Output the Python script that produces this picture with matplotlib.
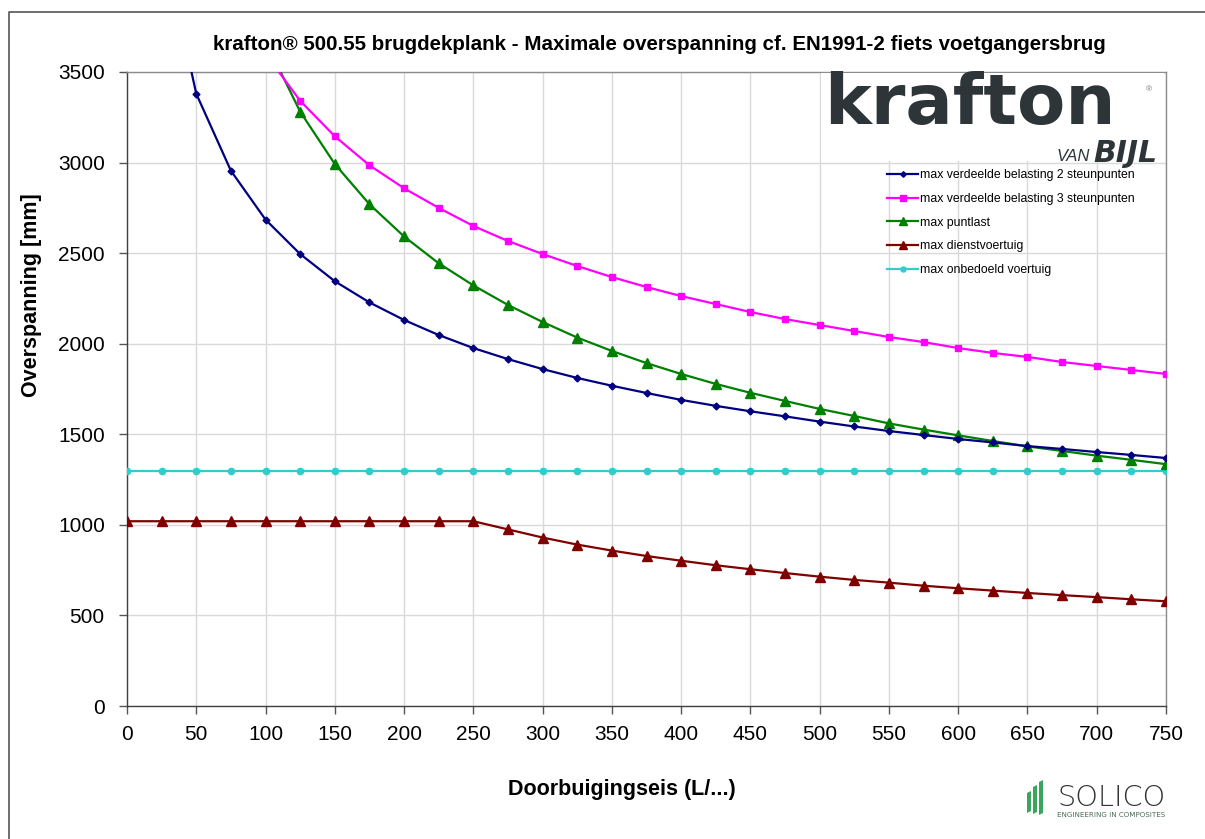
import numpy as np
import matplotlib
matplotlib.use("Agg")
import matplotlib.pyplot as plt
from matplotlib.patches import Rectangle, Polygon
from matplotlib.lines import Line2D

plt.rcParams['font.family'] = ['Liberation Sans', 'DejaVu Sans']

# ---------------- data ----------------
x_vals = list(range(0, 751, 25))
nan = np.nan
verdeeld_2 = [nan, 4250, 3380, 2955, 2685, 2495, 2345, 2228, 2131, 2048, 1976, 1915, 1860,
              1811, 1768, 1728, 1690, 1657, 1627, 1599, 1570, 1543, 1518, 1496, 1474, 1455,
              1435, 1419, 1402, 1386, 1369]
verdeeld_3 = [nan, 5720, 4540, 3960, 3600, 3341, 3145, 2985, 2858, 2750, 2650, 2567, 2495,
              2429, 2368, 2313, 2263, 2219, 2175, 2136, 2103, 2070, 2037, 2009, 1976, 1949,
              1927, 1899, 1877, 1855, 1833]
puntlast = [nan, 7330, 5180, 4230, 3670, 3281, 2992, 2770, 2592, 2444, 2322, 2214, 2120,
            2034, 1960, 1893, 1833, 1778, 1729, 1684, 1640, 1601, 1560, 1526, 1494, 1463,
            1433, 1408, 1382, 1359, 1335]
dienstvoertuig = [1020, 1020, 1020, 1020, 1020, 1020, 1020, 1020, 1020, 1020, 1020, 975, 930,
                  891, 858, 828, 802, 777, 755, 734, 714, 696, 681, 664, 650, 637,
                  624, 612, 601, 589, 578]
onbedoeld = [1300] * 31

labels = ["max verdeelde belasting 2 steunpunten",
          "max verdeelde belasting 3 steunpunten",
          "max puntlast",
          "max dienstvoertuig",
          "max onbedoeld voertuig"]
x_ticks = list(range(0, 751, 50))
y_ticks = list(range(0, 3501, 500))

title = "krafton® 500.55 brugdekplank - Maximale overspanning cf. EN1991-2 fiets voetgangersbrug"
xlabel = "Doorbuigingseis (L/...)"
ylabel = "Overspanning [mm]"

# ---------------- figure ----------------
W, H = 1205, 839
fig = plt.figure(figsize=(W / 100, H / 100), dpi=100)
fig.patch.set_facecolor('white')

L, R, T, B = 127, 1166, 72, 706
ax = fig.add_axes([L / W, 1 - B / H, (R - L) / W, (B - T) / H])

styles = [
    dict(color='#000080', marker='D', ms=3.5),
    dict(color='#FF00FF', marker='s', ms=5),
    dict(color='#008000', marker='^', ms=7),
    dict(color='#800000', marker='^', ms=7),
    dict(color='#33CCCC', marker='o', ms=4.5),
]
series = [verdeeld_2, verdeeld_3, puntlast, dienstvoertuig, onbedoeld]
order = [4, 3, 2, 1, 0]
handles = [None] * 5
for i in order:
    st = styles[i]
    (ln,) = ax.plot(x_vals, series[i], color=st['color'], lw=1.6, marker=st['marker'],
                    ms=st['ms'], mfc=st['color'], mec=st['color'], label=labels[i],
                    clip_on=True, zorder=3 + (4 - i))
    handles[i] = ln

ax.set_xlim(0, 750)
ax.set_ylim(0, 3500)
ax.set_xticks(x_ticks)
ax.set_yticks(y_ticks)
ax.grid(True, color='#d9d9d9', lw=1)
ax.set_axisbelow(True)
ax.tick_params(axis='both', labelsize=15, length=6, width=1, color='#555555',
               direction='out')
ax.tick_params(axis='x', pad=8)
ax.tick_params(axis='y', pad=10)
for s in ['left', 'bottom']:
    ax.spines[s].set_color('#404040')
    ax.spines[s].set_linewidth(1.0)
for s in ['top', 'right']:
    ax.spines[s].set_color('#8c8c8c')
    ax.spines[s].set_linewidth(1.0)

leg = ax.legend(handles=handles, labels=labels, loc='upper left',
                bbox_to_anchor=(885 / W, 1 - 167 / H), bbox_transform=fig.transFigure,
                frameon=False, fontsize=8.8, labelspacing=0.95, handlelength=2.5,
                handletextpad=0.15, borderpad=0.2, borderaxespad=0)
for h in leg.legend_handles:
    h.set_markersize(h.get_markersize() * 0.8)

fig.text(659 / W, 1 - 45 / H, title, ha='center', va='center', fontsize=14.8,
         fontweight='bold')
fig.text(622 / W, 1 - 789 / H, xlabel, ha='center', va='center', fontsize=15.5,
         fontweight='bold')
fig.text(32 / W, 1 - 295 / H, ylabel, ha='center', va='center', fontsize=15.5,
         fontweight='bold', rotation=90)

# ---------------- overlay (pixel coordinates) ----------------
ov = fig.add_axes([0, 0, 1, 1], zorder=10)
ov.set_xlim(0, W)
ov.set_ylim(H, 0)
ov.axis('off')
ov.patch.set_visible(False)

# outer border
ov.add_line(Line2D([9, 9, W], [H, 12, 12], color='#555555', lw=1.2))

# krafton logo box
ov.add_patch(Rectangle((821, 73), 343, 88, facecolor='white', edgecolor='none'))
logo_col = '#2d3538'
k_base = 128
vb_base = 158
t_k = ov.text(824, k_base, "krafton", fontsize=50, fontweight='bold',
              family=['DejaVu Sans'], color=logo_col, ha='left', va='baseline')
ov.text(1149, 90, "®", fontsize=6, color='#777777', ha='center', va='center')
t_van = ov.text(1090, vb_base - 1, "VAN", fontsize=11, fontstyle='italic', color=logo_col,
                ha='right', va='baseline')
t_bijl = ov.text(1093, vb_base, "BIJL", fontsize=20, fontweight='bold', fontstyle='italic',
                 family=['DejaVu Sans'], color=logo_col, ha='left', va='baseline')

# SOLICO logo
green = '#3aa65c'
for (x0, y0, y1) in [(1027, 791, 813), (1033, 785, 814), (1039, 780, 815)]:
    ov.add_patch(Polygon([(x0, y1), (x0 + 4, y1 - 2), (x0 + 4, y0), (x0, y0 + 2)],
                         closed=True, facecolor=green, edgecolor='none'))
t_sol = ov.text(1057, 806, "SOLICO", fontsize=18, fontweight='light',
                family=['DejaVu Sans'], color='#333333', ha='left', va='baseline')
t_eng = ov.text(1057, 817, "ENGINEERING IN COMPOSITES", fontsize=4.5,
                family=['DejaVu Sans'], color='#4a6a55', ha='left', va='baseline')

# fit logo texts to their measured widths
fig.canvas.draw()
rend = fig.canvas.get_renderer()
for t, target in [(t_k, 292), (t_sol, 108), (t_eng, 108), (t_bijl, 64), (t_van, 33)]:
    w = t.get_window_extent(rend).width
    if w > 0:
        t.set_fontsize(t.get_fontsize() * target / w)

# keep the krafton word's text box clear of the VAN BIJL line
fig.canvas.draw()
k_bottom = H - t_k.get_window_extent(rend).y0
vb_top = H - max(t_bijl.get_window_extent(rend).y1, t_van.get_window_extent(rend).y1)
if k_bottom > vb_top - 1:
    shift = (k_bottom - vb_top + 1)
    up = min(shift, 4.0)
    down = shift - up
    t_k.set_y(k_base - up)
    t_bijl.set_y(vb_base + down)
    t_van.set_y(vb_base - 1 + down)
    vb_base = vb_base + down

# stripes through BIJL
for yy in (vb_base - 12.0, vb_base - 6.0):
    ov.add_line(Line2D([1090, 1164], [yy, yy], color='white', lw=1.0))

fig.savefig("out.png", dpi=100, facecolor='white')
